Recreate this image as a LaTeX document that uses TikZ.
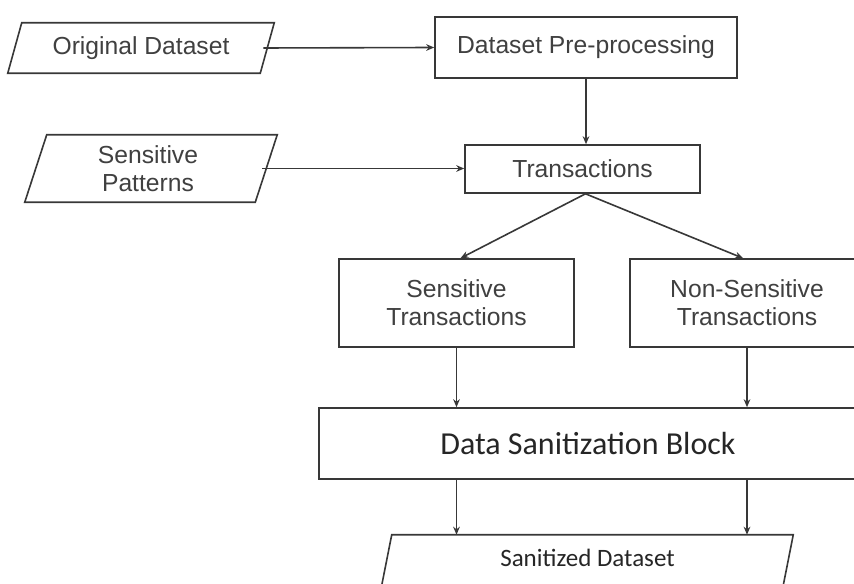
\documentclass[tikz,border=0pt]{standalone}
\usepackage{fontspec}
\setmainfont{Liberation Sans}
\newfontfamily\calfont{Carlito}
\usetikzlibrary{arrows.meta}
\definecolor{lc}{HTML}{383838}
\definecolor{tc}{HTML}{404040}
\definecolor{tcal}{HTML}{262626}
\begin{document}
\begin{tikzpicture}[x=0.75pt,y=-0.75pt,
  txt/.style={inner sep=0pt, align=center, text=tc, font=\fontsize{18.5}{21}\selectfont},
  box/.style={txt, draw=lc, line width=1.2pt, fill=white},
  slantnode/.style={txt},
  outline/.style={draw=lc, line width=1.2pt, fill=white, line join=miter},
  conn/.style={draw=lc, line width=1.2pt, -{Stealth[length=6pt,width=5pt]}}]
\useasboundingbox[fill=white] (0,0) rectangle (854,584);

% parallelogram inputs (outline drawn from the node's corners)
\node[slantnode, minimum width={252*0.75pt}, minimum height={50*0.75pt}] (od) at (141,48) {};
\draw[outline] ([xshift={7*0.75pt}]od.north west) -- ([xshift={7*0.75pt}]od.north east)
  -- ([xshift={-7*0.75pt}]od.south east) -- ([xshift={-7*0.75pt}]od.south west) -- cycle;
\node[txt] at (od.center) {Original Dataset};

\node[slantnode, minimum width={230*0.75pt}, minimum height={67*0.75pt}] (sp) at (151,168.5) {};
\draw[outline] ([xshift={11*0.75pt}]sp.north west) -- ([xshift={11*0.75pt}]sp.north east)
  -- ([xshift={-11*0.75pt}]sp.south east) -- ([xshift={-11*0.75pt}]sp.south west) -- cycle;
\node[txt] at ([xshift={-3*0.75pt}]sp.center) {Sensitive\\Patterns};

% process boxes
\node[box, minimum width={302*0.75pt}, minimum height={61*0.75pt}] (dp) at (586,47.5) {Dataset Pre-processing};
\node[box, minimum width={235*0.75pt}, minimum height={48*0.75pt}] (tr) at (582.5,169) {Transactions};
\node[box, minimum width={235*0.75pt}, minimum height={88*0.75pt}] (st) at (456.5,303) {Sensitive\\Transactions};
\node[box, minimum width={234*0.75pt}, minimum height={88*0.75pt}] (nst) at (747,303) {Non-Sensitive\\Transactions};
\node[box, text=tcal, font=\calfont\fontsize{24}{28}\selectfont, minimum width={538*0.75pt}, minimum height={71*0.75pt}] (ds) at (588,443.5) {Data Sanitization Block};

% output parallelogram
\node[slantnode, minimum width={401*0.75pt}, minimum height={50*0.75pt}] (sd) at (587.5,560) {};
\draw[outline] ([xshift={5*0.75pt}]sd.north west) -- ([xshift={5*0.75pt}]sd.north east)
  -- ([xshift={-5*0.75pt}]sd.south east) -- ([xshift={-5*0.75pt}]sd.south west) -- cycle;
\node[txt, text=tcal, font=\calfont\fontsize{18.75}{22}\selectfont] at ([yshift={2*0.75pt}]sd.center) {Sanitized Dataset};

% connectors
\draw[conn] ([xshift={-4*0.75pt}]od.east) -- (dp.west);
\draw[conn] ([xshift={-4*0.75pt}]sp.east) -- (sp.east -| tr.west);
\draw[conn] (dp.south) -- (dp.south |- tr.north);
\draw[conn] ([xshift={3*0.75pt}]tr.south) -- ([xshift={4*0.75pt}]st.north);
\draw[conn] ([xshift={3*0.75pt}]tr.south) -- ([xshift={-4*0.75pt}]nst.north);
\draw[conn] (st.south) -- (st.south |- ds.north);
\draw[conn] (nst.south) -- (nst.south |- ds.north);
\draw[conn] (ds.south -| st.south) -- (st.south |- sd.north);
\draw[conn] (ds.south -| nst.south) -- (nst.south |- sd.north);
\end{tikzpicture}
\end{document}
